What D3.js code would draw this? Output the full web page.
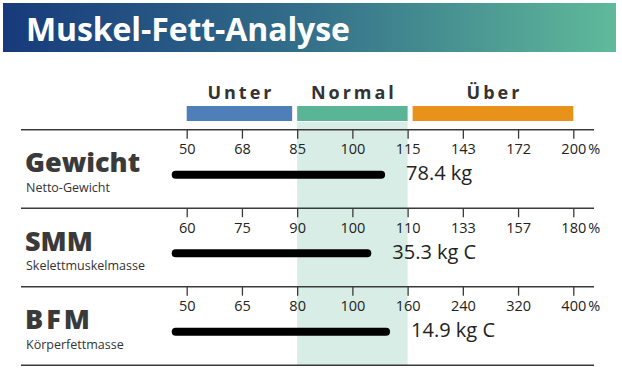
<!DOCTYPE html>
<html>
<head>
<meta charset="utf-8">
<script src="https://cdn.jsdelivr.net/npm/d3@7"></script>
<style>
  body { margin: 0; background: #fff; }
  text { font-family: "Open Sans", "Noto Sans", sans-serif; }
</style>
</head>
<body>
<script>
var title = "Muskel-Fett-Analyse";
var zones = ["Unter", "Normal", "Über"];
var zoneColors = ["#4f7fb9", "#5ab596", "#e8921a"];
var rowNames = ["Gewicht", "SMM", "BFM"];
var rowSubs = ["Netto-Gewicht", "Skelettmuskelmasse", "Körperfettmasse"];
var ticksGewicht = [50, 68, 85, 100, 115, 143, 172, 200];
var ticksSMM = [60, 75, 90, 100, 110, 133, 157, 180];
var ticksBFM = [50, 65, 80, 100, 160, 240, 320, 400];
var pctValues = [107.8, 102.7, 136.6];
var valueLabels = ["78.4 kg", "35.3 kg C", "14.9 kg C"];

var width = 622, height = 373;
var x0 = 186.7, x1 = 573.3;
var rowTop = 129.7, rowH = 78.5;
var allTicks = [ticksGewicht, ticksSMM, ticksBFM];

var svg = d3.select("body").append("svg")
  .attr("width", width)
  .attr("height", height);

// title banner
var grad = svg.append("defs").append("linearGradient").attr("id", "bannerGrad");
grad.append("stop").attr("offset", "0%").attr("stop-color", "#173a7b");
grad.append("stop").attr("offset", "50%").attr("stop-color", "#34708a");
grad.append("stop").attr("offset", "100%").attr("stop-color", "#5fba9a");

svg.append("rect").attr("x", 3).attr("y", 3).attr("width", 613).attr("height", 49)
  .attr("fill", "url(#bannerGrad)");
svg.append("text").attr("x", 26).attr("y", 41)
  .attr("fill", "#fff").attr("font-size", 32).attr("font-weight", 700)
  .attr("letter-spacing", -0.1)
  .text(title);

// index scale for zone positions (tick index -> x)
var idx = d3.scaleLinear().domain([0, 7]).range([x0, x1]);
var zoneSpans = [[idx(0), idx(2) - 5], [idx(2), idx(4)], [idx(4) + 5, idx(7)]];

var bottom = rowTop + rowH * 3;

// normal shading
svg.append("rect")
  .attr("x", idx(2)).attr("y", 122)
  .attr("width", idx(4) - idx(2)).attr("height", bottom - 122)
  .attr("fill", "#d8ede5");

var zg = svg.selectAll(".zone").data(zones).enter().append("g");
zg.append("rect")
  .attr("x", function(d, i) { return zoneSpans[i][0]; })
  .attr("y", 106)
  .attr("width", function(d, i) { return zoneSpans[i][1] - zoneSpans[i][0]; })
  .attr("height", 15)
  .attr("fill", function(d, i) { return zoneColors[i]; });
zg.append("text")
  .attr("x", function(d, i) { return (zoneSpans[i][0] + zoneSpans[i][1]) / 2 + 1.5; })
  .attr("y", 99)
  .attr("text-anchor", "middle")
  .attr("font-size", 18).attr("font-weight", 700)
  .attr("letter-spacing", 3)
  .attr("fill", "#333")
  .text(function(d) { return d; });

// rows
rowNames.forEach(function(name, i) {
  var top = rowTop + i * rowH;
  var ticks = allTicks[i];
  var x = d3.scaleLinear().domain(ticks).range(ticks.map(function(d, j) { return idx(j); }));
  var g = svg.append("g");

  g.append("line").attr("x1", 21).attr("x2", 594).attr("y1", top).attr("y2", top)
    .attr("stroke", "#3a3a3a").attr("stroke-width", 1.5);

  var axis = d3.axisBottom(x).tickValues(ticks).tickSize(9).tickFormat(d3.format("d"));
  var ag = g.append("g").attr("transform", "translate(0," + top + ")").call(axis);
  ag.attr("font-size", null).attr("font-family", null);
  ag.select(".domain").remove();
  ag.selectAll(".tick line").attr("stroke", "#3a3a3a").attr("stroke-width", 1.3);
  ag.selectAll(".tick text").attr("font-size", 14.5).attr("fill", "#222")
    .attr("y", 24.5).attr("dy", 0);
  g.append("text").attr("x", x(ticks[7]) + 15).attr("y", top + 24.5)
    .attr("font-size", 14.5).attr("fill", "#222").text("%");

  g.append("line")
    .attr("x1", x0 - 11).attr("x2", x(pctValues[i]))
    .attr("y1", top + 45).attr("y2", top + 45)
    .attr("stroke", "#000").attr("stroke-width", 8).attr("stroke-linecap", "round");

  g.append("text").attr("x", x(pctValues[i]) + 25).attr("y", top + 50.5)
    .attr("font-size", 20).attr("fill", "#222").text(valueLabels[i]);

  g.append("text").attr("x", 25).attr("y", top + 42.5)
    .attr("font-size", 27).attr("font-weight", 800).attr("fill", "#3a3a3a")
    .attr("letter-spacing", name === "BFM" ? 3 : 0)
    .text(name);
  g.append("text").attr("x", 26).attr("y", top + 62)
    .attr("font-size", 12.5).attr("fill", "#333")
    .text(rowSubs[i]);
});

svg.append("line").attr("x1", 21).attr("x2", 594).attr("y1", bottom).attr("y2", bottom)
  .attr("stroke", "#3a3a3a").attr("stroke-width", 1.5);
</script>
</body>
</html>
